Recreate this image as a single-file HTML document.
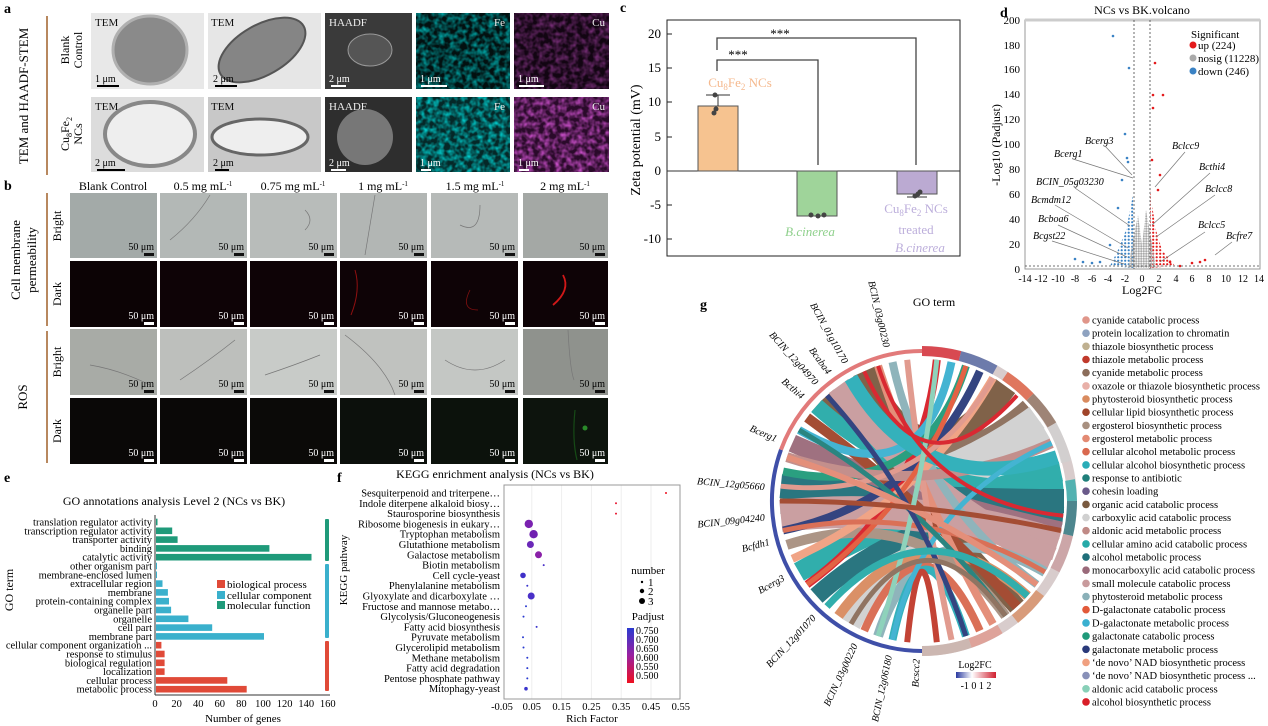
<!DOCTYPE html>
<html><head><meta charset="utf-8"><style>
html,body{margin:0;padding:0;background:#fff}
svg{display:block;font-family:"Liberation Serif",serif}
</style></head><body>
<svg width="1268" height="726" viewBox="0 0 1268 726" xmlns="http://www.w3.org/2000/svg">
<defs>
<filter id="nz" x="0" y="0" width="100%" height="100%"><feTurbulence type="fractalNoise" baseFrequency="0.18" numOctaves="2" seed="3"/><feColorMatrix type="matrix" values="0 0 0 0 0  0 0 0 0 0.85  0 0 0 0 0.85  0 0 0 1.6 -0.55"/></filter>
<filter id="nzp" x="0" y="0" width="100%" height="100%"><feTurbulence type="fractalNoise" baseFrequency="0.18" numOctaves="2" seed="7"/><feColorMatrix type="matrix" values="0 0 0 0 0.75  0 0 0 0 0.1  0 0 0 0 0.75  0 0 0 1.6 -0.55"/></filter>
<linearGradient id="lfc" x1="0" x2="1"><stop offset="0" stop-color="#2a3aa0"/><stop offset="0.4" stop-color="#ffffff"/><stop offset="1" stop-color="#d02030"/></linearGradient>
<linearGradient id="pad" x1="0" y1="0" x2="0" y2="1"><stop offset="0" stop-color="#2a3ad0"/><stop offset="0.5" stop-color="#9a20a0"/><stop offset="1" stop-color="#ee1020"/></linearGradient>
<pattern id="pb" width="3.5" height="3.5" patternUnits="userSpaceOnUse"><circle cx="1.7" cy="1.7" r="1.1" fill="#3a82c4"/></pattern>
<pattern id="pr" width="3.5" height="3.5" patternUnits="userSpaceOnUse"><circle cx="1.7" cy="1.7" r="1.1" fill="#e41a1c"/></pattern>
<pattern id="pg" width="2.5" height="2.5" patternUnits="userSpaceOnUse"><circle cx="1.25" cy="1.25" r="1.1" fill="#aaa"/></pattern>
</defs>

<!-- a -->
<g font-size="11">
<text x="4" y="13" font-weight="bold" font-size="14">a</text>
<line x1="47" y1="16" x2="47" y2="175" stroke="#a0602a" stroke-width="1.5"/>
<text transform="translate(28,96) rotate(-90)" text-anchor="middle" font-size="13">TEM and HAADF-STEM</text>
<text transform="translate(69,50) rotate(-90)" text-anchor="middle" font-size="12">Blank</text>
<text transform="translate(82,50) rotate(-90)" text-anchor="middle" font-size="12">Control</text>
<text transform="translate(69,134) rotate(-90)" text-anchor="middle" font-size="12">Cu<tspan font-size="8" dy="3">8</tspan><tspan dy="-3">Fe</tspan><tspan font-size="8" dy="3">2</tspan></text>
<text transform="translate(82,134) rotate(-90)" text-anchor="middle" font-size="12">NCs</text>
<rect x="91" y="13" width="113" height="76" fill="#e8e8e8"/><ellipse cx="150" cy="50" rx="37" ry="34" fill="#8a8a8a" stroke="#b0b0b0" stroke-width="3"/>
<rect x="208" y="13" width="113" height="76" fill="#e6e6e6"/><ellipse cx="262" cy="50" rx="48" ry="25" transform="rotate(-30 262 50)" fill="#858585" stroke="#555" stroke-width="2"/>
<rect x="325" y="13" width="87" height="76" fill="#3a3a3a"/><ellipse cx="370" cy="50" rx="22" ry="16" fill="#555" stroke="#999"/>
<rect x="416" y="13" width="94" height="76" fill="#031010"/><rect x="416" y="13" width="94" height="76" filter="url(#nz)" opacity="0.8"/>
<rect x="514" y="13" width="95" height="76" fill="#120512"/><rect x="514" y="13" width="95" height="76" filter="url(#nzp)" opacity="0.55"/>
<rect x="91" y="97" width="113" height="75" fill="#dcdcdc"/><ellipse cx="150" cy="134" rx="45" ry="32" fill="#eee" stroke="#888" stroke-width="4"/>
<rect x="208" y="97" width="113" height="75" fill="#c8c8c8"/><ellipse cx="260" cy="137" rx="48" ry="18" fill="#eee" stroke="#666" stroke-width="3"/>
<rect x="325" y="97" width="87" height="75" fill="#2e2e2e"/><ellipse cx="365" cy="137" rx="28" ry="28" fill="#777"/>
<rect x="416" y="97" width="94" height="75" fill="#052828"/><rect x="416" y="97" width="94" height="75" filter="url(#nz)"/>
<rect x="514" y="97" width="95" height="75" fill="#2a0a2a"/><rect x="514" y="97" width="95" height="75" filter="url(#nzp)"/>
<g fill="#111"><text x="95" y="26">TEM</text><text x="211" y="26">TEM</text><text x="95" y="110">TEM</text><text x="211" y="110">TEM</text></g>
<g fill="#eee"><text x="329" y="26">HAADF</text><text x="329" y="110">HAADF</text><text x="505" y="26" text-anchor="end">Fe</text><text x="505" y="110" text-anchor="end">Fe</text><text x="605" y="26" text-anchor="end">Cu</text><text x="605" y="110" text-anchor="end">Cu</text></g>
<g font-size="10"><text x="95" y="82">1 μm</text><rect x="97" y="85" width="22" height="2"/><text x="213" y="82">2 μm</text><rect x="215" y="85" width="22" height="2"/>
<text x="95" y="166">2 μm</text><rect x="97" y="169" width="28" height="2"/><text x="213" y="166">2 μm</text><rect x="215" y="169" width="14" height="2"/></g>
<g font-size="10" fill="#fff"><text x="329" y="82">2 μm</text><rect x="331" y="85" width="15" height="2"/><text x="420" y="82">1 μm</text><rect x="421" y="85" width="26" height="2"/><text x="518" y="82">1 μm</text><rect x="519" y="85" width="25" height="2"/>
<text x="329" y="166">2 μm</text><rect x="331" y="169" width="15" height="2"/><text x="420" y="166">1 μm</text><rect x="421" y="169" width="10" height="2"/><text x="518" y="166">1 μm</text><rect x="519" y="169" width="10" height="2"/></g>
</g>

<!-- b -->
<g font-size="12">
<text x="4" y="190" font-weight="bold" font-size="14">b</text>
<g text-anchor="middle"><text x="113" y="190">Blank Control</text><text x="203" y="190">0.5 mg mL<tspan font-size="7" dy="-4">-1</tspan></text><text x="293" y="190">0.75 mg mL<tspan font-size="7" dy="-4">-1</tspan></text><text x="383" y="190">1 mg mL<tspan font-size="7" dy="-4">-1</tspan></text><text x="475" y="190">1.5 mg mL<tspan font-size="7" dy="-4">-1</tspan></text><text x="565" y="190">2 mg mL<tspan font-size="7" dy="-4">-1</tspan></text></g>
<line x1="47" y1="193" x2="47" y2="326" stroke="#a0602a" stroke-width="1.5"/>
<line x1="47" y1="331" x2="47" y2="463" stroke="#a0602a" stroke-width="1.5"/>
<text transform="translate(20,260) rotate(-90)" text-anchor="middle" font-size="13">Cell membrane</text>
<text transform="translate(36,260) rotate(-90)" text-anchor="middle" font-size="13">permeability</text>
<text transform="translate(27,397) rotate(-90)" text-anchor="middle" font-size="13">ROS</text>
<g text-anchor="middle"><text transform="translate(61,226) rotate(-90)">Bright</text><text transform="translate(61,294) rotate(-90)">Dark</text><text transform="translate(61,362) rotate(-90)">Bright</text><text transform="translate(61,431) rotate(-90)">Dark</text></g>
<rect x="70" y="193" width="87" height="65" fill="#a3aaa8"/><rect x="160" y="193" width="87" height="65" fill="#b3b8b6"/><rect x="250" y="193" width="87" height="65" fill="#b8bcba"/><rect x="340" y="193" width="87" height="65" fill="#b2b6b4"/><rect x="431" y="193" width="87" height="65" fill="#b6bab8"/><rect x="523" y="193" width="85" height="65" fill="#a4a8a5"/>
<rect x="70" y="261" width="87" height="66" fill="#0c0305"/><rect x="160" y="261" width="87" height="66" fill="#0e0306"/><rect x="250" y="261" width="87" height="66" fill="#0e0306"/><rect x="340" y="261" width="87" height="66" fill="#0e0306"/><rect x="431" y="261" width="87" height="66" fill="#0e0306"/><rect x="523" y="261" width="85" height="66" fill="#0e0306"/>
<rect x="70" y="329" width="87" height="66" fill="#a8aba6"/><rect x="160" y="329" width="87" height="66" fill="#bdbfbc"/><rect x="250" y="329" width="87" height="66" fill="#c8cbc8"/><rect x="340" y="329" width="87" height="66" fill="#c0c2bf"/><rect x="431" y="329" width="87" height="66" fill="#c4c7c4"/><rect x="523" y="329" width="85" height="66" fill="#8f928d"/>
<rect x="70" y="398" width="87" height="66" fill="#0a0807"/><rect x="160" y="398" width="87" height="66" fill="#0a0807"/><rect x="250" y="398" width="87" height="66" fill="#0b0a08"/><rect x="340" y="398" width="87" height="66" fill="#0c100c"/><rect x="431" y="398" width="87" height="66" fill="#0c120c"/><rect x="523" y="398" width="85" height="66" fill="#0d140d"/>
<g fill="none" stroke="#777" stroke-width="0.7">
<path d="M170,240 q25,-20 40,-45"/><path d="M365,255 q5,-30 10,-60"/><path d="M305,230 q10,-10 0,-20"/><path d="M460,225 q20,10 20,-20"/>
<path d="M90,365 q30,5 60,20"/><path d="M180,380 q30,-20 55,-40"/><path d="M265,375 q30,-10 55,-20"/><path d="M345,335 q40,30 50,60"/><path d="M445,360 q30,20 60,0"/><path d="M568,330 q2,40 6,50"/></g>
<path d="M355,270 q6,20 -4,45" stroke="#901010" stroke-width="1" fill="none"/>
<path d="M470,290 q-10,20 8,20" stroke="#801010" stroke-width="0.8" fill="none"/>
<path d="M563,275 q8,15 -10,30" stroke="#d01818" stroke-width="1.8" fill="none"/>
<path d="M575,410 q-3,30 2,50" stroke="#164a16" stroke-width="1.2" fill="none"/>
<circle cx="585" cy="428" r="2.5" fill="#2a8a2a"/>
<g font-size="10" text-anchor="end">
<text x="154" y="250">50 μm</text><text x="244" y="250">50 μm</text><text x="334" y="250">50 μm</text><text x="424" y="250">50 μm</text><text x="515" y="250">50 μm</text><text x="605" y="250">50 μm</text>
<text x="154" y="387">50 μm</text><text x="244" y="387">50 μm</text><text x="334" y="387">50 μm</text><text x="424" y="387">50 μm</text><text x="515" y="387">50 μm</text><text x="605" y="387">50 μm</text>
<g fill="#fff"><text x="154" y="319">50 μm</text><text x="244" y="319">50 μm</text><text x="334" y="319">50 μm</text><text x="424" y="319">50 μm</text><text x="515" y="319">50 μm</text><text x="605" y="319">50 μm</text>
<text x="154" y="456">50 μm</text><text x="244" y="456">50 μm</text><text x="334" y="456">50 μm</text><text x="424" y="456">50 μm</text><text x="515" y="456">50 μm</text><text x="605" y="456">50 μm</text></g></g>
<g fill="#111"><rect x="144" y="253" width="10" height="3"/><rect x="234" y="253" width="10" height="3"/><rect x="324" y="253" width="10" height="3"/><rect x="414" y="253" width="10" height="3"/><rect x="505" y="253" width="10" height="3"/><rect x="595" y="253" width="10" height="3"/>
<rect x="144" y="390" width="10" height="3"/><rect x="234" y="390" width="10" height="3"/><rect x="324" y="390" width="10" height="3"/><rect x="414" y="390" width="10" height="3"/><rect x="505" y="390" width="10" height="3"/><rect x="595" y="390" width="10" height="3"/></g>
<g fill="#fff"><rect x="144" y="322" width="10" height="3"/><rect x="234" y="322" width="10" height="3"/><rect x="324" y="322" width="10" height="3"/><rect x="414" y="322" width="10" height="3"/><rect x="505" y="322" width="10" height="3"/><rect x="595" y="322" width="10" height="3"/>
<rect x="144" y="459" width="10" height="3"/><rect x="234" y="459" width="10" height="3"/><rect x="324" y="459" width="10" height="3"/><rect x="414" y="459" width="10" height="3"/><rect x="505" y="459" width="10" height="3"/><rect x="595" y="459" width="10" height="3"/></g>
</g>

<!-- c -->
<g font-size="14">
<text x="620" y="12" font-weight="bold">c</text>
<rect x="667" y="20" width="293" height="236" fill="none" stroke="#222"/>
<line x1="667" y1="171" x2="960" y2="171" stroke="#333"/>
<g text-anchor="end" font-size="13"><text x="661" y="38">20</text><text x="661" y="72">15</text><text x="661" y="106">10</text><text x="661" y="141">5</text><text x="661" y="175">0</text><text x="661" y="209">-5</text><text x="661" y="243">-10</text></g>
<g stroke="#222"><line x1="667" y1="34" x2="672" y2="34"/><line x1="667" y1="68" x2="672" y2="68"/><line x1="667" y1="102" x2="672" y2="102"/><line x1="667" y1="137" x2="672" y2="137"/><line x1="667" y1="205" x2="672" y2="205"/><line x1="667" y1="239" x2="672" y2="239"/></g>
<text transform="translate(640,140) rotate(-90)" text-anchor="middle">Zeta potential (mV)</text>
<rect x="698" y="106" width="40" height="65" fill="#f6c390" stroke="#555"/>
<rect x="797" y="171" width="40" height="45" fill="#9fd49a" stroke="#555"/>
<rect x="897" y="171" width="40" height="23" fill="#bbaad2" stroke="#555"/>
<g stroke="#333"><line x1="718" y1="106" x2="718" y2="95"/><line x1="706" y1="95" x2="730" y2="95"/><line x1="907" y1="197" x2="927" y2="197"/></g>
<g fill="#444"><circle cx="715" cy="95" r="2.5"/><circle cx="716" cy="109" r="2.5"/><circle cx="714" cy="113" r="2.5"/><circle cx="811" cy="215" r="2.5"/><circle cx="818" cy="216" r="2.5"/><circle cx="824" cy="215" r="2.5"/><circle cx="915" cy="196" r="2.5"/><circle cx="918" cy="194" r="2.5"/><circle cx="920" cy="192" r="2.5"/></g>
<g fill="none" stroke="#444" stroke-width="1.3"><polyline points="717,50 717,38 916,38 916,165"/><polyline points="717,71 717,60 818,60 818,165"/></g>
<text x="780" y="38" text-anchor="middle" font-size="13">***</text><text x="738" y="59" text-anchor="middle" font-size="13">***</text>
<text x="740" y="87" text-anchor="middle" fill="#f5b98e" font-size="13">Cu<tspan font-size="9" dy="3">8</tspan><tspan dy="-3">Fe</tspan><tspan font-size="9" dy="3">2</tspan><tspan dy="-3"> NCs</tspan></text>
<text x="810" y="236" text-anchor="middle" fill="#8fd08c" font-style="italic" font-size="13">B.cinerea</text>
<g fill="#bcaedb" text-anchor="middle" font-size="13"><text x="916" y="213">Cu<tspan font-size="9" dy="3">8</tspan><tspan dy="-3">Fe</tspan><tspan font-size="9" dy="3">2</tspan><tspan dy="-3"> NCs</tspan></text><text x="916" y="234">treated</text><text x="920" y="252" font-style="italic">B.cinerea</text></g>
</g>

<!-- d -->
<g font-size="11">
<text x="1000" y="17" font-weight="bold" font-size="14">d</text>
<text x="1142" y="14" text-anchor="middle" font-size="12">NCs vs BK.volcano</text>
<rect x="1025" y="20" width="235" height="249" fill="none" stroke="#999"/>
<line x1="1025" y1="20" x2="1260" y2="20" stroke="#ccc" stroke-width="3"/>
<g text-anchor="end"><text x="1020" y="24">200</text><text x="1020" y="49">180</text><text x="1020" y="73">160</text><text x="1020" y="98">140</text><text x="1020" y="123">120</text><text x="1020" y="148">100</text><text x="1020" y="173">80</text><text x="1020" y="198">60</text><text x="1020" y="223">40</text><text x="1020" y="248">20</text><text x="1020" y="273">0</text></g>
<g text-anchor="middle" font-size="10"><text x="1025" y="282">-14</text><text x="1041" y="282">-12</text><text x="1058" y="282">-10</text><text x="1075" y="282">-8</text><text x="1092" y="282">-6</text><text x="1108" y="282">-4</text><text x="1125" y="282">-2</text><text x="1142" y="282">0</text><text x="1159" y="282">2</text><text x="1176" y="282">4</text><text x="1192" y="282">6</text><text x="1209" y="282">8</text><text x="1226" y="282">10</text><text x="1243" y="282">12</text><text x="1259" y="282">14</text></g>
<text x="1142" y="294" text-anchor="middle" font-size="12">Log2FC</text>
<text transform="translate(1000,145) rotate(-90)" text-anchor="middle" font-size="12">-Log10 (Padjust)</text>
<path d="M1133,195 L1130,210 L1126,230 L1118,250 L1110,266 L1134,268 Z" fill="url(#pb)"/>
<path d="M1150,190 L1152,205 L1156,230 L1162,250 L1175,266 L1150,268 Z" fill="url(#pr)"/>
<path d="M1128,268 L1134,235 L1138,215 L1142,245 L1146,210 L1150,232 L1156,268 Z" fill="url(#pg)"/>
<g fill="#3a82c4"><circle cx="1113" cy="36" r="1.3"/><circle cx="1129" cy="68" r="1.3"/><circle cx="1125" cy="134" r="1.3"/><circle cx="1127" cy="158" r="1.3"/><circle cx="1128" cy="162" r="1.3"/><circle cx="1122" cy="180" r="1.3"/><circle cx="1118" cy="208" r="1.3"/><circle cx="1075" cy="259" r="1.3"/><circle cx="1083" cy="262" r="1.3"/><circle cx="1092" cy="263" r="1.3"/><circle cx="1100" cy="262" r="1.3"/><circle cx="1110" cy="245" r="1.3"/></g>
<g fill="#e41a1c"><circle cx="1155" cy="63" r="1.3"/><circle cx="1153" cy="95" r="1.3"/><circle cx="1163" cy="95" r="1.3"/><circle cx="1153" cy="108" r="1.3"/><circle cx="1152" cy="160" r="1.3"/><circle cx="1160" cy="175" r="1.3"/><circle cx="1158" cy="190" r="1.3"/><circle cx="1192" cy="263" r="1.3"/><circle cx="1200" cy="262" r="1.3"/><circle cx="1205" cy="260" r="1.3"/><circle cx="1180" cy="266" r="1.3"/><circle cx="1170" cy="262" r="1.3"/></g>
<g stroke="#444" stroke-dasharray="2,2" stroke-width="0.8"><line x1="1134" y1="20" x2="1134" y2="269"/><line x1="1150" y1="20" x2="1150" y2="269"/><line x1="1025" y1="266" x2="1260" y2="266"/></g>
<text x="1191" y="38">Significant</text>
<circle cx="1193" cy="45" r="3.5" fill="#e41a1c"/><text x="1198" y="49">up (224)</text>
<circle cx="1193" cy="58" r="3.5" fill="#aaa"/><text x="1198" y="62">nosig (11228)</text>
<circle cx="1193" cy="71" r="3.5" fill="#3a82c4"/><text x="1198" y="75">down (246)</text>
<g font-style="italic" font-size="10"><text x="1085" y="144">Bcerg3</text><text x="1054" y="157">Bcerg1</text><text x="1036" y="185">BCIN_05g03230</text><text x="1031" y="203">Bcmdm12</text><text x="1038" y="222">Bcboa6</text><text x="1033" y="239">Bcgst22</text>
<text x="1172" y="149">Bclcc9</text><text x="1199" y="170">Bcthi4</text><text x="1205" y="192">Bclcc8</text><text x="1198" y="228">Bclcc5</text><text x="1226" y="239">Bcfre7</text></g>
<g stroke="#777" stroke-width="0.7"><line x1="1105" y1="146" x2="1132" y2="175"/><line x1="1073" y1="159" x2="1133" y2="178"/><line x1="1075" y1="188" x2="1130" y2="226"/><line x1="1055" y1="205" x2="1128" y2="248"/><line x1="1058" y1="225" x2="1127" y2="257"/><line x1="1052" y1="241" x2="1124" y2="264"/>
<line x1="1185" y1="152" x2="1155" y2="187"/><line x1="1210" y1="173" x2="1152" y2="225"/><line x1="1215" y1="195" x2="1156" y2="237"/><line x1="1205" y1="232" x2="1160" y2="262"/><line x1="1232" y1="242" x2="1215" y2="255"/></g>
</g>

<!-- e -->
<g font-size="11">
<text x="4" y="482" font-weight="bold" font-size="14">e</text>
<text x="174" y="505" text-anchor="middle" font-size="12">GO annotations analysis Level 2 (NCs vs BK)</text>
<text transform="translate(13,590) rotate(-90)" text-anchor="middle" font-size="12">GO term</text>
<line x1="155" y1="515" x2="155" y2="695" stroke="#333"/>
<line x1="155" y1="695" x2="330" y2="695" stroke="#333"/>
<g fill="#1f9a7a"><rect x="156" y="518.7" width="1.5" height="6.6"/><rect x="156" y="527.5" width="16.2" height="6.6"/><rect x="156" y="536.3" width="21.6" height="6.6"/><rect x="156" y="545.1" width="113.4" height="6.6"/><rect x="156" y="553.9" width="155.5" height="6.6"/></g>
<g fill="#3ab0cc"><rect x="156" y="562.7" width="1" height="6.6"/><rect x="156" y="571.5" width="1" height="6.6"/><rect x="156" y="580.3" width="6.5" height="6.6"/><rect x="156" y="589.1" width="11.9" height="6.6"/><rect x="156" y="597.9" width="13" height="6.6"/><rect x="156" y="606.7" width="15.1" height="6.6"/><rect x="156" y="615.5" width="32.4" height="6.6"/><rect x="156" y="624.3" width="56.2" height="6.6"/><rect x="156" y="633.1" width="108" height="6.6"/></g>
<g fill="#e04a38"><rect x="156" y="641.9" width="5.4" height="6.6"/><rect x="156" y="650.7" width="8.6" height="6.6"/><rect x="156" y="659.5" width="8.6" height="6.6"/><rect x="156" y="668.3" width="8.6" height="6.6"/><rect x="156" y="677.1" width="71.3" height="6.6"/><rect x="156" y="685.9" width="90.7" height="6.6"/></g>
<g text-anchor="end" font-size="10.5">
<text x="152" y="525.5">translation regulator activity</text><text x="152" y="534.3">transcription regulator activity</text><text x="152" y="543.1">transporter activity</text><text x="152" y="551.9">binding</text><text x="152" y="560.7">catalytic activity</text><text x="152" y="569.5">other organism part</text><text x="152" y="578.3">membrane-enclosed lumen</text><text x="152" y="587.1">extracellular region</text><text x="152" y="595.9">membrane</text><text x="152" y="604.7">protein-containing complex</text><text x="152" y="613.5">organelle part</text><text x="152" y="622.3">organelle</text><text x="152" y="631.1">cell part</text><text x="152" y="639.9">membrane part</text><text x="152" y="648.7">cellular component organization ...</text><text x="152" y="657.5">response to stimulus</text><text x="152" y="666.3">biological regulation</text><text x="152" y="675.1">localization</text><text x="152" y="683.9">cellular process</text><text x="152" y="692.7">metabolic process</text></g>
<g text-anchor="middle" font-size="10.5"><text x="155" y="707">0</text><text x="176.6" y="707">20</text><text x="198.2" y="707">40</text><text x="219.8" y="707">60</text><text x="241.4" y="707">80</text><text x="263" y="707">100</text><text x="284.6" y="707">120</text><text x="306.2" y="707">140</text><text x="327.8" y="707">160</text></g>
<text x="243" y="722" text-anchor="middle">Number of genes</text>
<rect x="325" y="519" width="4" height="42" rx="1" fill="#1f9a7a"/><rect x="325" y="564" width="4" height="74" rx="1" fill="#3ab0cc"/><rect x="325" y="641" width="4" height="50" rx="1" fill="#e04a38"/>
<rect x="217" y="580" width="8" height="8" fill="#e04a38"/><text x="227" y="588">biological process</text>
<rect x="217" y="591" width="8" height="8" fill="#3ab0cc"/><text x="227" y="599">cellular component</text>
<rect x="217" y="601" width="8" height="8" fill="#1f9a7a"/><text x="227" y="609">molecular function</text>
</g>

<!-- f -->
<g font-size="11">
<text x="337" y="482" font-weight="bold" font-size="14">f</text>
<text x="495" y="478" text-anchor="middle" font-size="12">KEGG enrichment analysis (NCs vs BK)</text>
<text transform="translate(347,570) rotate(-90)" text-anchor="middle">KEGG pathway</text>
<g stroke="#eee"><line x1="531.8" y1="485" x2="531.8" y2="699"/><line x1="561.6" y1="485" x2="561.6" y2="699"/><line x1="591.4" y1="485" x2="591.4" y2="699"/><line x1="621.2" y1="485" x2="621.2" y2="699"/><line x1="651" y1="485" x2="651" y2="699"/></g>
<rect x="504" y="485" width="176" height="214" fill="none" stroke="#999"/>
<g text-anchor="end" font-size="10.5">
<text x="500" y="496.5">Sesquiterpenoid and triterpene…</text><text x="500" y="506.8">Indole diterpene alkaloid biosy…</text><text x="500" y="517.1">Staurosporine biosynthesis</text><text x="500" y="527.4">Ribosome biogenesis in eukary…</text><text x="500" y="537.7">Tryptophan metabolism</text><text x="500" y="548">Glutathione metabolism</text><text x="500" y="558.3">Galactose metabolism</text><text x="500" y="568.6">Biotin metabolism</text><text x="500" y="578.9">Cell cycle-yeast</text><text x="500" y="589.2">Phenylalanine metabolism</text><text x="500" y="599.5">Glyoxylate and dicarboxylate …</text><text x="500" y="609.8">Fructose and mannose metabo…</text><text x="500" y="620.1">Glycolysis/Gluconeogenesis</text><text x="500" y="630.4">Fatty acid biosynthesis</text><text x="500" y="640.7">Pyruvate metabolism</text><text x="500" y="651">Glycerolipid metabolism</text><text x="500" y="661.3">Methane metabolism</text><text x="500" y="671.6">Fatty acid degradation</text><text x="500" y="681.9">Pentose phosphate pathway</text><text x="500" y="692.2">Mitophagy-yeast</text></g>
<circle cx="666" cy="493" r="1" fill="#ee1020"/><circle cx="616" cy="503.3" r="1" fill="#e81530"/><circle cx="616" cy="513.6" r="1" fill="#e81530"/>
<circle cx="528.8" cy="523.9" r="4.2" fill="#7a22b0"/><circle cx="533.6" cy="534.2" r="4.2" fill="#7020b0"/><circle cx="530.4" cy="544.5" r="3.5" fill="#6a28b8"/><circle cx="538.5" cy="554.8" r="3.5" fill="#8a20a8"/><circle cx="543.7" cy="565.1" r="1" fill="#4a30c8"/><circle cx="523" cy="575.4" r="2.8" fill="#4030c8"/><circle cx="527.3" cy="585.7" r="1" fill="#3a34cc"/><circle cx="531.2" cy="596" r="3.5" fill="#4a30c8"/><circle cx="526" cy="606.3" r="1" fill="#2a3ad0"/><circle cx="523.5" cy="616.6" r="1" fill="#2a3ad0"/><circle cx="536.6" cy="626.9" r="1" fill="#3a34cc"/><circle cx="523" cy="637.2" r="1" fill="#2a3ad0"/><circle cx="523.5" cy="647.5" r="1" fill="#2a3ad0"/><circle cx="527.3" cy="657.8" r="1" fill="#2a3ad0"/><circle cx="527.3" cy="668.1" r="1" fill="#2a3ad0"/><circle cx="527.3" cy="678.4" r="1" fill="#2a3ad0"/><circle cx="526" cy="688.7" r="1.8" fill="#3a34cc"/>
<g text-anchor="middle" font-size="10.5"><text x="502" y="710">-0.05</text><text x="531.8" y="710">0.05</text><text x="561.6" y="710">0.15</text><text x="591.4" y="710">0.25</text><text x="621.2" y="710">0.35</text><text x="651" y="710">0.45</text><text x="680.8" y="710">0.55</text></g>
<text x="592" y="722" text-anchor="middle">Rich Factor</text>
<text x="648" y="574" text-anchor="middle">number</text>
<circle cx="642" cy="582" r="1.2"/><text x="648" y="586">1</text><circle cx="642" cy="591" r="2.2"/><text x="648" y="595">2</text><circle cx="642" cy="601" r="3"/><text x="648" y="605">3</text>
<text x="648" y="620" text-anchor="middle">Padjust</text>
<rect x="627" y="628" width="7" height="55" fill="url(#pad)"/>
<g font-size="10"><text x="636" y="634">0.750</text><text x="636" y="643">0.700</text><text x="636" y="652">0.650</text><text x="636" y="661">0.600</text><text x="636" y="670">0.550</text><text x="636" y="679">0.500</text></g>
</g>

<!-- g -->
<g font-size="11">
<text x="700" y="309" font-weight="bold" font-size="14">g</text>
<text x="934" y="306" text-anchor="middle" font-size="12">GO term</text>
<g fill="none" stroke-linecap="butt" opacity="0.95">
<path d="M827,395.5 Q922,501 1017,606.5" stroke="#7a5a40" stroke-width="18"/>
<path d="M864.2,371.3 Q922,501 1005.5,386.1" stroke="#7a5a40" stroke-width="24"/>
<path d="M816.5,406 Q922,501 1027.5,406" stroke="#8b6d5a" stroke-width="14"/>
<path d="M780,501 Q922,501 1036.9,417.5" stroke="#d0d0d0" stroke-width="26"/>
<path d="M851,624 Q922,501 1045,430" stroke="#d0d0d0" stroke-width="20"/>
<path d="M799,572 Q922,501 1060.9,471.5" stroke="#26aaa8" stroke-width="20"/>
<path d="M816.5,406 Q922,501 1063.2,486.2" stroke="#26aaa8" stroke-width="16"/>
<path d="M780.8,486.2 Q922,501 1064,501" stroke="#1f6f7a" stroke-width="24"/>
<path d="M816.5,596 Q922,501 1063.2,515.8" stroke="#1f6f7a" stroke-width="18"/>
<path d="M792.3,443.2 Q922,501 1060.9,530.5" stroke="#9a6a7a" stroke-width="18"/>
<path d="M780.8,515.8 Q922,501 1057.1,544.9" stroke="#c89a9c" stroke-width="32"/>
<path d="M838.5,386.1 Q922,501 1051.7,558.8" stroke="#c89a9c" stroke-width="24"/>
<path d="M878.1,636.1 Q922,501 1045,572" stroke="#8ab0b8" stroke-width="10"/>
<path d="M892.5,362.1 Q922,501 1036.9,584.5" stroke="#8ab0b8" stroke-width="8"/>
<path d="M838.5,615.9 Q922,501 1027.5,596" stroke="#d98b5f" stroke-width="10"/>
<path d="M807.1,417.5 Q922,501 1017,606.5" stroke="#a0442a" stroke-width="10"/>
<path d="M786.9,544.9 Q922,501 1005.5,615.9" stroke="#a89080" stroke-width="10"/>
<path d="M878.1,365.9 Q922,501 993,624" stroke="#e38a73" stroke-width="8"/>
<path d="M864.2,630.7 Q922,501 979.8,630.7" stroke="#d9694f" stroke-width="8"/>
<path d="M892.5,639.9 Q922,501 965.9,636.1" stroke="#2aadb8" stroke-width="8"/>
<path d="M907.2,359.8 Q922,501 951.5,639.9" stroke="#e0968a" stroke-width="6"/>
<path d="M907.2,642.2 Q922,501 936.8,642.2" stroke="#c0392b" stroke-width="6"/>
<path d="M807.1,584.5 Q922,501 936.8,359.8" stroke="#d81e28" stroke-width="8"/>
<path d="M799,430 Q922,501 951.5,362.1" stroke="#3ab0d0" stroke-width="8"/>
<path d="M783.1,471.5 Q922,501 965.9,365.9" stroke="#1f9a7a" stroke-width="8"/>
<path d="M783.1,530.5 Q922,501 979.8,371.3" stroke="#2a3a7a" stroke-width="8"/>
<path d="M792.3,558.8 Q922,501 993,378" stroke="#f0a080" stroke-width="8"/>
<path d="M786.9,457.1 Q922,501 1051.7,443.2" stroke="#c08a86" stroke-width="10"/>
<path d="M851,378 Q922,501 1057.1,457.1" stroke="#2aadb8" stroke-width="14"/>
<path d="M807.1,584.5 Q922,501 965.9,365.9" stroke="#e25a3a" stroke-width="5"/>
<path d="M780.8,486.2 Q922,501 993,378" stroke="#e0968a" stroke-width="5"/>
<path d="M892.5,639.9 Q922,501 1051.7,443.2" stroke="#3ab0d0" stroke-width="5"/>
<path d="M783.1,530.5 Q922,501 1045,572" stroke="#d9694f" stroke-width="5"/>
<path d="M799,430 Q922,501 1005.5,615.9" stroke="#1f7f7a" stroke-width="5"/>
<path d="M878.1,636.1 Q922,501 936.8,359.8" stroke="#88d0b8" stroke-width="5"/>
<path d="M827,395.5 Q922,501 965.9,636.1" stroke="#2a3a7a" stroke-width="5"/>
<path d="M878.1,365.9 Q922,501 1063.2,515.8" stroke="#d81e28" stroke-width="4"/>
<path d="M864.2,371.3 Q922,501 1017,395.5" stroke="#d81e28" stroke-width="4"/>
<path d="M827,606.5 Q922,501 1027.5,596" stroke="#26aaa8" stroke-width="7"/>
<path d="M851,624 Q922,501 1005.5,615.9" stroke="#8b6d5a" stroke-width="5"/>
<path d="M786.9,457.1 Q922,501 1036.9,584.5" stroke="#e38a73" stroke-width="6"/>
<path d="M780,501 Q922,501 1060.9,530.5" stroke="#a0442a" stroke-width="5"/>
</g>
<path d="M922,351 A150,150 0 0 1 1072,501 A150,150 0 0 1 922,651" fill="none" stroke="#d8cccc" stroke-width="10"/>
<g fill="none" stroke-width="10" opacity="0.75">
<path d="M922,351 A150,150 0 0 1 960,356" stroke="#d81e28"/><path d="M960,356 A150,150 0 0 1 995,370" stroke="#4a60a0"/>
<path d="M1005,376 A150,150 0 0 1 1030,397" stroke="#e25a3a"/><path d="M1030,397 A150,150 0 0 1 1052,425" stroke="#8b6d5a"/>
<path d="M1052,425 A150,150 0 0 1 1066,462" stroke="#d0d0d0"/><path d="M1070,480 A150,150 0 0 1 1072,501" stroke="#26aaa8"/>
<path d="M1072,501 A150,150 0 0 1 1068,535" stroke="#1f6f7a"/><path d="M1068,535 A150,150 0 0 1 1055,570" stroke="#c89a9c"/>
<path d="M1040,593 A150,150 0 0 1 1015,619" stroke="#d98b5f"/><path d="M1000,629 A150,150 0 0 1 970,643" stroke="#e0968a"/>
<path d="M970,643 A150,150 0 0 1 922,651" stroke="#c8b0a8"/></g>
<path d="M922,651 A150,150 0 0 1 781,449.7" fill="none" stroke="#3f4fa8" stroke-width="4"/>
<path d="M781,449.7 A150,150 0 0 1 922,351" fill="none" stroke="#e27a7a" stroke-width="4"/>
<g font-size="10" font-style="italic" text-anchor="end">
<text x="886.4" y="347.1" dy="3" transform="rotate(77 886.4 347.1)">BCIN_03g00230</text>
<text x="845.4" y="362.8" dy="3" transform="rotate(61 845.4 362.8)">BCIN_01g10170</text>
<text x="829.1" y="373.2" dy="3" transform="rotate(54 829.1 373.2)">Bcaba4</text>
<text x="816.3" y="383.6" dy="3" transform="rotate(48 816.3 383.6)">BCIN_12g04970</text>
<text x="802.7" y="397.3" dy="3" transform="rotate(41 802.7 397.3)">Bcthi4</text>
<text x="776.5" y="439.2" dy="3" transform="rotate(23 776.5 439.2)">Bcerg1</text>
<text x="764.6" y="487.2" dy="3" transform="rotate(5 764.6 487.2)">BCIN_12g05660</text>
<text x="764.8" y="517.6" dy="3" transform="rotate(-6 764.8 517.6)">BCIN_09g04240</text>
<text x="769.4" y="541.9" dy="3" transform="rotate(-15 769.4 541.9)">Bcfdh1</text>
<text x="783.8" y="577.6" dy="3" transform="rotate(-29 783.8 577.6)">Bcerg3</text>
<text x="814.2" y="616.5" dy="3" transform="rotate(-47 814.2 616.5)">BCIN_12g01070</text>
<text x="855.2" y="644.2" dy="3" transform="rotate(-65 855.2 644.2)">BCIN_03g00220</text>
<text x="889.1" y="655.5" dy="3" transform="rotate(-78 889.1 655.5)">BCIN_12g06180</text>
<text x="916.5" y="658.9" dy="3" transform="rotate(-88 916.5 658.9)">Bcscc2</text></g>
<text x="975" y="668" text-anchor="middle" font-size="10">Log2FC</text>
<rect x="956" y="672" width="40" height="6" fill="url(#lfc)"/>
<text x="976" y="689" text-anchor="middle" font-size="10">-1  0  1  2</text>
<g font-size="10.5">
<circle cx="1086" cy="320" r="3.8" fill="#e0968a"/><text x="1092" y="323.5">cyanide catabolic process</text>
<circle cx="1086" cy="333.2" r="3.8" fill="#8ea2c0"/><text x="1092" y="336.7">protein localization to chromatin</text>
<circle cx="1086" cy="346.3" r="3.8" fill="#bfb090"/><text x="1092" y="349.8">thiazole biosynthetic process</text>
<circle cx="1086" cy="359.5" r="3.8" fill="#c0392b"/><text x="1092" y="363">thiazole metabolic process</text>
<circle cx="1086" cy="372.7" r="3.8" fill="#8b6d5a"/><text x="1092" y="376.2">cyanide metabolic process</text>
<circle cx="1086" cy="385.9" r="3.8" fill="#e8b0a8"/><text x="1092" y="389.4">oxazole or thiazole biosynthetic process</text>
<circle cx="1086" cy="399" r="3.8" fill="#d98b5f"/><text x="1092" y="402.5">phytosteroid biosynthetic process</text>
<circle cx="1086" cy="412.2" r="3.8" fill="#a0442a"/><text x="1092" y="415.7">cellular lipid biosynthetic process</text>
<circle cx="1086" cy="425.4" r="3.8" fill="#a89080"/><text x="1092" y="428.9">ergosterol biosynthetic process</text>
<circle cx="1086" cy="438.5" r="3.8" fill="#e38a73"/><text x="1092" y="442">ergosterol metabolic process</text>
<circle cx="1086" cy="451.7" r="3.8" fill="#d9694f"/><text x="1092" y="455.2">cellular alcohol metabolic process</text>
<circle cx="1086" cy="464.9" r="3.8" fill="#2aadb8"/><text x="1092" y="468.4">cellular alcohol biosynthetic process</text>
<circle cx="1086" cy="478" r="3.8" fill="#1f7f7a"/><text x="1092" y="481.5">response to antibiotic</text>
<circle cx="1086" cy="491.2" r="3.8" fill="#6a5a8a"/><text x="1092" y="494.7">cohesin loading</text>
<circle cx="1086" cy="504.4" r="3.8" fill="#7a5a40"/><text x="1092" y="507.9">organic acid catabolic process</text>
<circle cx="1086" cy="517.6" r="3.8" fill="#d0d0d0"/><text x="1092" y="521.1">carboxylic acid catabolic process</text>
<circle cx="1086" cy="530.7" r="3.8" fill="#c08a86"/><text x="1092" y="534.2">aldonic acid metabolic process</text>
<circle cx="1086" cy="543.9" r="3.8" fill="#26aaa8"/><text x="1092" y="547.4">cellular amino acid catabolic process</text>
<circle cx="1086" cy="557.1" r="3.8" fill="#1f6f7a"/><text x="1092" y="560.6">alcohol metabolic process</text>
<circle cx="1086" cy="570.2" r="3.8" fill="#9a6a7a"/><text x="1092" y="573.7">monocarboxylic acid catabolic process</text>
<circle cx="1086" cy="583.4" r="3.8" fill="#c89a9c"/><text x="1092" y="586.9">small molecule catabolic process</text>
<circle cx="1086" cy="596.6" r="3.8" fill="#8ab0b8"/><text x="1092" y="600.1">phytosteroid metabolic process</text>
<circle cx="1086" cy="609.7" r="3.8" fill="#e25a3a"/><text x="1092" y="613.2">D-galactonate catabolic process</text>
<circle cx="1086" cy="622.9" r="3.8" fill="#3ab0d0"/><text x="1092" y="626.4">D-galactonate metabolic process</text>
<circle cx="1086" cy="636.1" r="3.8" fill="#1f9a7a"/><text x="1092" y="639.6">galactonate catabolic process</text>
<circle cx="1086" cy="649.3" r="3.8" fill="#2a3a7a"/><text x="1092" y="652.8">galactonate metabolic process</text>
<circle cx="1086" cy="662.4" r="3.8" fill="#f0a080"/><text x="1092" y="665.9">‘de novo’ NAD biosynthetic process</text>
<circle cx="1086" cy="675.6" r="3.8" fill="#8890b8"/><text x="1092" y="679.1">‘de novo’ NAD biosynthetic process ...</text>
<circle cx="1086" cy="688.8" r="3.8" fill="#88d0b8"/><text x="1092" y="692.3">aldonic acid catabolic process</text>
<circle cx="1086" cy="701.9" r="3.8" fill="#d81e28"/><text x="1092" y="705.4">alcohol biosynthetic process</text>
</g>
</g>
</svg>
</body></html>
